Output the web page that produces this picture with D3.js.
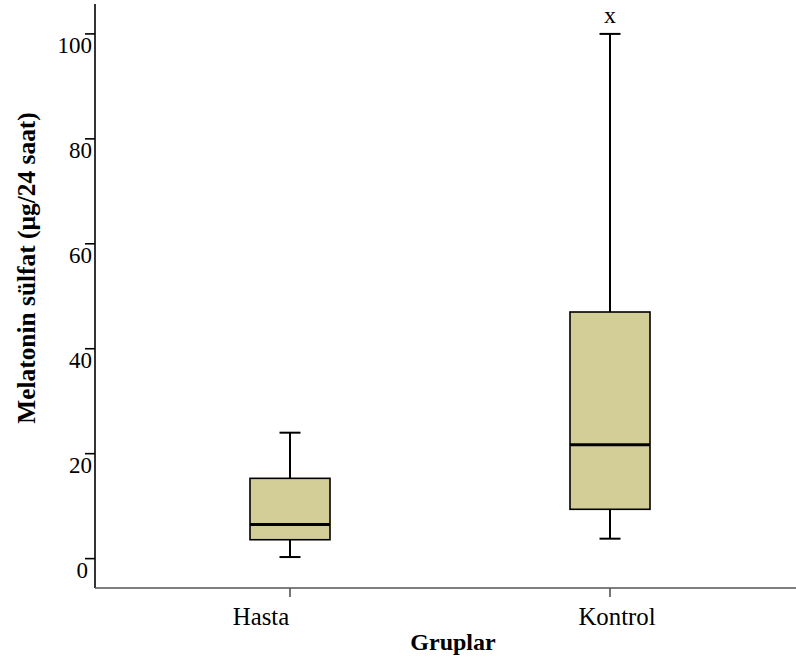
<!DOCTYPE html>
<html>
<head>
<meta charset="utf-8">
<script src="https://cdn.jsdelivr.net/npm/d3@7"></script>
<style>
  html, body { margin: 0; padding: 0; background: #fff; }
  svg { display: block; font-family: "Liberation Serif", "Times New Roman", serif; }
</style>
</head>
<body>
<svg id="chart" width="796" height="663"></svg>
<script>
// Group names and five-number summaries (µg/24 saat)
const groups = ["Hasta", "Kontrol"];
const whiskerLow = [0.3, 3.8];
const q1 = [3.6, 9.4];
const median = [6.5, 21.7];
const q3 = [15.3, 47.0];
const whiskerHigh = [24.0, 100.0];
// Extreme values drawn with an "x" marker
const outlierGroup = ["Kontrol"];
const outlierValue = [103.5];
const yTicks = [0, 20, 40, 60, 80, 100];

const svg = d3.select("#chart");
const plotLeft = 95, plotRight = 796, plotTop = 4, plotBottom = 588;

const y = d3.scaleLinear().domain([-5.6, 105.7]).range([plotBottom, plotTop]);
const x = d3.scaleBand().domain(groups).range([130, 770]).paddingInner(0).paddingOuter(0);
const cx = g => x(g) + x.bandwidth() / 2;
const boxW = 80, capW = 21;
// category labels sit slightly off their tick marks
const labelShift = { Hasta: -29, Kontrol: 7 };

// Boxes
const data = groups.map((g, i) => ({
  g, lo: whiskerLow[i], q1: q1[i], med: median[i], q3: q3[i], hi: whiskerHigh[i]
}));

const box = svg.append("g").selectAll("g").data(data).join("g");
box.append("line")
  .attr("x1", d => cx(d.g)).attr("x2", d => cx(d.g))
  .attr("y1", d => y(d.hi)).attr("y2", d => y(d.q3))
  .attr("stroke", "#000").attr("stroke-width", 2);
box.append("line")
  .attr("x1", d => cx(d.g)).attr("x2", d => cx(d.g))
  .attr("y1", d => y(d.q1)).attr("y2", d => y(d.lo))
  .attr("stroke", "#000").attr("stroke-width", 2);
box.append("line")
  .attr("x1", d => cx(d.g) - capW / 2).attr("x2", d => cx(d.g) + capW / 2)
  .attr("y1", d => y(d.hi)).attr("y2", d => y(d.hi))
  .attr("stroke", "#000").attr("stroke-width", 2);
box.append("line")
  .attr("x1", d => cx(d.g) - capW / 2).attr("x2", d => cx(d.g) + capW / 2)
  .attr("y1", d => y(d.lo)).attr("y2", d => y(d.lo))
  .attr("stroke", "#000").attr("stroke-width", 2);
box.append("rect")
  .attr("x", d => cx(d.g) - boxW / 2).attr("width", boxW)
  .attr("y", d => y(d.q3)).attr("height", d => y(d.q1) - y(d.q3))
  .attr("fill", "#d3ce98").attr("stroke", "#000").attr("stroke-width", 1.6);
box.append("line")
  .attr("x1", d => cx(d.g) - boxW / 2).attr("x2", d => cx(d.g) + boxW / 2)
  .attr("y1", d => y(d.med)).attr("y2", d => y(d.med))
  .attr("stroke", "#000").attr("stroke-width", 3);

// Outliers
svg.append("g").selectAll("text")
  .data(outlierGroup.map((g, i) => ({ g, v: outlierValue[i] })))
  .join("text")
  .attr("x", d => cx(d.g)).attr("y", d => y(d.v))
  .attr("dy", "0.3em")
  .attr("text-anchor", "middle")
  .attr("font-size", 24)
  .text("x");

// Y axis
const yAxis = svg.append("g");
yAxis.append("line")
  .attr("x1", plotLeft).attr("x2", plotLeft).attr("y1", plotTop).attr("y2", plotBottom)
  .attr("stroke", "#000").attr("stroke-width", 1.6);
const yt = yAxis.selectAll("g.tick").data(yTicks).join("g").attr("class", "tick");
yt.append("line")
  .attr("x1", plotLeft - 10).attr("x2", plotLeft)
  .attr("y1", d => y(d)).attr("y2", d => y(d))
  .attr("stroke", "#000").attr("stroke-width", 1.6);
yt.append("text")
  .attr("x", d => plotLeft - (d === 0 ? 7 : 3)).attr("y", d => y(d) + 19)
  .attr("text-anchor", "end")
  .attr("font-size", 23)
  .text(d => d3.format("d")(d));

// X axis
const xAxis = svg.append("g");
xAxis.append("line")
  .attr("x1", plotLeft).attr("x2", plotRight).attr("y1", plotBottom).attr("y2", plotBottom)
  .attr("stroke", "#555").attr("stroke-width", 1.6);
const xt = xAxis.selectAll("g.tick").data(groups).join("g").attr("class", "tick");
xt.append("line")
  .attr("x1", d => cx(d)).attr("x2", d => cx(d))
  .attr("y1", plotBottom).attr("y2", plotBottom + 9)
  .attr("stroke", "#555").attr("stroke-width", 1.6);
xt.append("text")
  .attr("x", d => cx(d) + labelShift[d]).attr("y", 625)
  .attr("text-anchor", "middle")
  .attr("font-size", 24.8)
  .text(d => d);

// Axis titles
svg.append("text")
  .attr("x", 453).attr("y", 650)
  .attr("text-anchor", "middle")
  .attr("font-size", 24).attr("font-weight", "bold")
  .text("Gruplar");
svg.append("text")
  .attr("transform", "translate(35,268) rotate(-90)")
  .attr("text-anchor", "middle")
  .attr("font-size", 25.4).attr("font-weight", "bold")
  .text("Melatonin sülfat (µg/24 saat)");
</script>
</body>
</html>
